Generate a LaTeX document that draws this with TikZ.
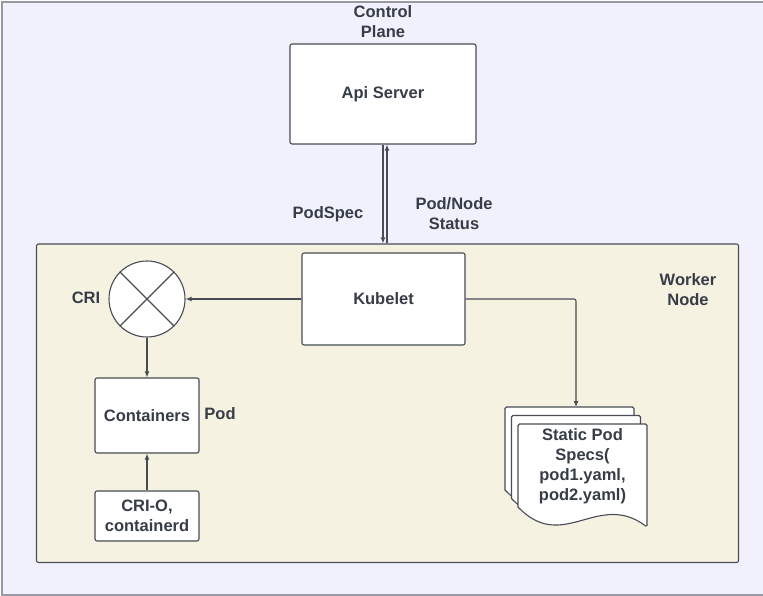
\documentclass[tikz,border=0pt]{standalone}
\usepackage{fontspec}
\setmainfont{Liberation Sans}
\usetikzlibrary{arrows.meta}
\definecolor{ink}{HTML}{363D47}
\definecolor{edge}{HTML}{484C54}
\definecolor{planebg}{HTML}{F1F1FD}
\definecolor{nodebg}{HTML}{F6F2E2}
\definecolor{frame}{HTML}{9898A4}

\begin{document}
\begin{tikzpicture}[x=1pt,y=-1pt,
  lbl/.style={font=\fontsize{16.5}{20}\selectfont\bfseries, text=ink, align=center, inner sep=0pt},
  box/.style={draw=edge, fill=white, rounded corners=2pt, line width=1.1pt},
  link/.style={draw=edge, line width=1.1pt, -{Latex[length=6pt,width=5pt]}},
  docpage/.style={draw=edge, fill=white, line width=1.1pt, rounded corners=1.5pt},
  doc/.pic={\path[docpage] (0,83) -- (0,0) -- (129,0) -- (129,103)
      [sharp corners] .. controls (80,66) and (45,130) .. (0,83) -- cycle;}]
\useasboundingbox (0,0) rectangle (763,596);

% control plane frame (open on the right)
\fill[planebg] (2,2) rectangle (763,595);
\draw[frame, line width=1.2pt] (763,2) -- (2,2) -- (2,595) -- (763,595);
\node[lbl] (cptitle) at (383,22) {Control\\Plane};

% API server
\node[box, minimum width=186pt, minimum height=100pt, lbl] (api) at (383,94) {Api Server};

% worker node
\node[draw=edge, fill=nodebg, rounded corners=2pt, line width=1.1pt, minimum width=702pt, minimum height=318.5pt, inner sep=0pt] (worker) at (387.5,403.25) {};
\node[lbl] (wntitle) at (688,290) {Worker\\Node};

% API server <-> worker node traffic
\draw[link] (api.south) -- (api.south |- worker.north);
\draw[link] ([xshift=4pt]api.south |- worker.north) -- ([xshift=4pt]api.south);
\node[lbl] (podspec) at (328,214) {PodSpec};
\node[lbl] (status) at (454,214) {Pod/Node\\Status};

% kubelet
\node[box, minimum width=163pt, minimum height=92pt, lbl] (kubelet) at (383.5,299) {Kubelet};

% container runtime interface
\node[draw=edge, fill=white, circle, line width=1.1pt, minimum size=76pt, inner sep=0pt] (cri) at (147,299) {};
\draw[edge, line width=1.1pt] (cri.north west) -- (cri.south east);
\draw[edge, line width=1.1pt] (cri.north east) -- (cri.south west);
\node[lbl] (crilbl) at (86,298) {CRI};

% pod and runtime
\node[box, minimum width=104pt, minimum height=75pt, lbl] (containers) at (147,415.5) {Containers};
\node[lbl] (podlbl) at (220,414) {Pod};
\node[box, minimum width=104pt, minimum height=50pt, lbl] (crio) at (147,516) {CRI-O,\\containerd};

\draw[link] (kubelet.west) -- (cri.east);
\draw[link] (cri.south) -- (containers.north);
\draw[link] (crio.north) -- (containers.south);

% static pod manifests
\pic (docback) at (505,407) {doc};
\pic (docmid) at (511.5,415.5) {doc};
\pic (docfront) at (518,424) {doc};
\node[lbl] (specs) at (582.5,466) {Static Pod\\Specs(\\pod1.yaml,\\pod2.yaml)};
\coordinate (docs) at (576,407);
\draw[link, rounded corners=2pt] (kubelet.east) -| (docs);
\end{tikzpicture}
\end{document}
